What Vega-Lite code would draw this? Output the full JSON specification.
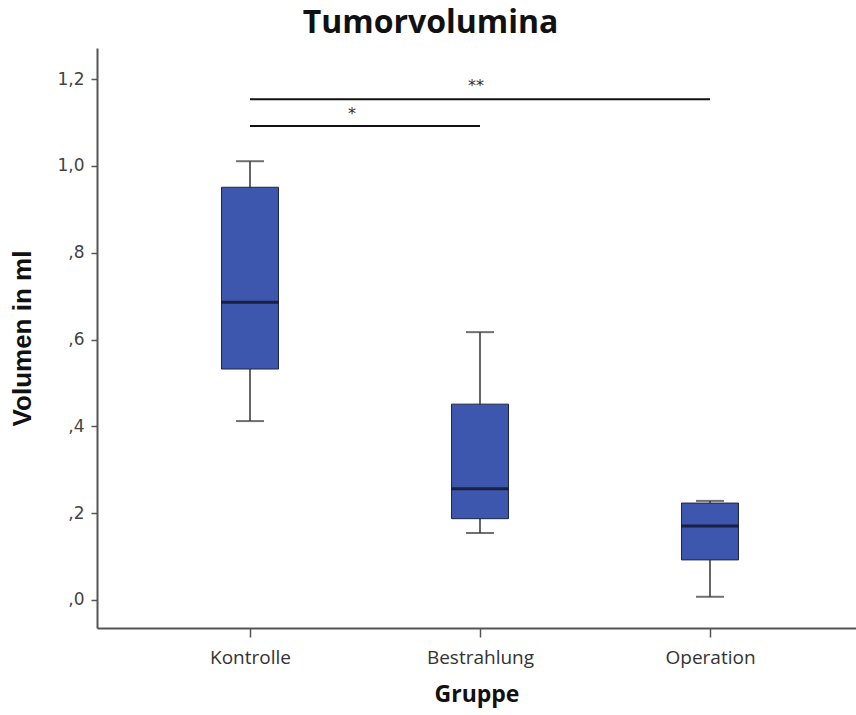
{
  "$schema": "https://vega.github.io/schema/vega-lite/v6.json",
  "width": 759,
  "height": 580,
  "autosize": {"type": "none"},
  "padding": {"left": 97, "top": 48, "right": 0, "bottom": 87},
  "background": "white",
  "title": {
    "text": "Tumorvolumina",
    "font": "Open Sans",
    "fontWeight": "bold",
    "fontSize": 32,
    "color": "#111111",
    "anchor": "middle",
    "baseline": "alphabetic",
    "offset": -17,
    "dx": -46
  },
  "config": {"view": {"stroke": null}},
  "datasets": {
    "boxes": [
      {"gruppe": "Kontrolle", "min": 0.412, "q1": 0.532, "median": 0.686, "q3": 0.951, "max": 1.011},
      {"gruppe": "Bestrahlung", "min": 0.154, "q1": 0.187, "median": 0.256, "q3": 0.451, "max": 0.617},
      {"gruppe": "Operation", "min": 0.007, "q1": 0.092, "median": 0.170, "q3": 0.223, "max": 0.228}
    ],
    "sig": [
      {"von": "Kontrolle", "bis": "Operation", "y": 1.154, "label": "**"},
      {"von": "Kontrolle", "bis": "Bestrahlung", "y": 1.092, "label": "*"}
    ]
  },
  "encoding": {
    "x": {
      "field": "gruppe",
      "type": "nominal",
      "scale": {"type": "point", "domain": ["Kontrolle", "Bestrahlung", "Operation"], "padding": 0.65, "align": 0.5117},
      "axis": {
        "title": "Gruppe",
        "titleFont": "Open Sans",
        "titleFontWeight": "bold",
        "titleFontSize": 23,
        "titleColor": "#111111",
        "titlePadding": 16,
        "labelAngle": 0,
        "labelFont": "Open Sans",
        "labelFontSize": 19,
        "labelColor": "#333333",
        "labelPadding": 11,
        "domainColor": "#555555",
        "domainWidth": 2,
        "tickColor": "#555555",
        "tickWidth": 1.5,
        "tickSize": 9
      }
    }
  },
  "layer": [
    {
      "mark": {"type": "rule", "color": "#555555", "strokeWidth": 2},
      "encoding": {"y": {"datum": 1.272}}
    },
    {
      "data": {"name": "boxes"},
      "mark": {"type": "rule", "color": "#333333", "strokeWidth": 1.5},
      "encoding": {
        "y": {
          "field": "min",
          "type": "quantitative",
          "scale": {"domain": [-0.065, 1.272], "nice": false, "zero": false},
          "axis": {
            "title": "Volumen in ml",
            "titleFont": "Liberation Sans",
            "titleFontWeight": "bold",
            "titleFontSize": 26,
            "titleColor": "#111111",
            "titlePadding": 21,
            "values": [0, 0.2, 0.4, 0.6, 0.8, 1.0, 1.2],
            "labelExpr": "datum.value < 0.99 ? replace(format(datum.value, '.1f'), '0.', ',') : replace(format(datum.value, '.1f'), '.', ',')",
            "labelFont": "DejaVu Sans",
            "labelFontSize": 17,
            "labelColor": "#444444",
            "labelPadding": 7,
            "domainColor": "#555555",
            "domainWidth": 2,
            "tickColor": "#555555",
            "tickWidth": 1.5,
            "tickSize": 6,
            "grid": false
          }
        },
        "y2": {"field": "max"}
      }
    },
    {
      "data": {"name": "boxes"},
      "mark": {"type": "tick", "color": "#333333", "size": 28, "thickness": 2},
      "encoding": {"y": {"field": "min", "type": "quantitative"}}
    },
    {
      "data": {"name": "boxes"},
      "mark": {"type": "tick", "color": "#333333", "size": 28, "thickness": 2},
      "encoding": {"y": {"field": "max", "type": "quantitative"}}
    },
    {
      "data": {"name": "boxes"},
      "mark": {"type": "bar", "size": 57, "fill": "#3D56AE", "stroke": "#1E2640", "strokeWidth": 1},
      "encoding": {
        "y": {"field": "q1", "type": "quantitative"},
        "y2": {"field": "q3"}
      }
    },
    {
      "data": {"name": "boxes"},
      "mark": {"type": "tick", "color": "#0A0A14", "size": 57, "thickness": 3},
      "encoding": {"y": {"field": "median", "type": "quantitative"}}
    },
    {
      "data": {"name": "sig"},
      "mark": {"type": "rule", "color": "#111111", "strokeWidth": 2},
      "encoding": {
        "x": {"field": "von", "type": "nominal"},
        "x2": {"field": "bis"},
        "y": {"field": "y", "type": "quantitative"}
      }
    },
    {
      "data": {"name": "sig"},
      "transform": [{"filter": "datum.label == '**'"}],
      "mark": {"type": "text", "font": "DejaVu Sans", "fontSize": 16, "color": "#333333", "baseline": "alphabetic", "dx": -4, "dy": -8},
      "encoding": {
        "x": {"datum": "Bestrahlung"},
        "y": {"field": "y", "type": "quantitative"},
        "text": {"field": "label"}
      }
    },
    {
      "data": {"name": "sig"},
      "transform": [{"filter": "datum.label == '*'"}],
      "mark": {"type": "text", "font": "DejaVu Sans", "fontSize": 16, "color": "#333333", "baseline": "alphabetic", "dx": 102, "dy": -7},
      "encoding": {
        "x": {"datum": "Kontrolle"},
        "y": {"field": "y", "type": "quantitative"},
        "text": {"field": "label"}
      }
    }
  ]
}
